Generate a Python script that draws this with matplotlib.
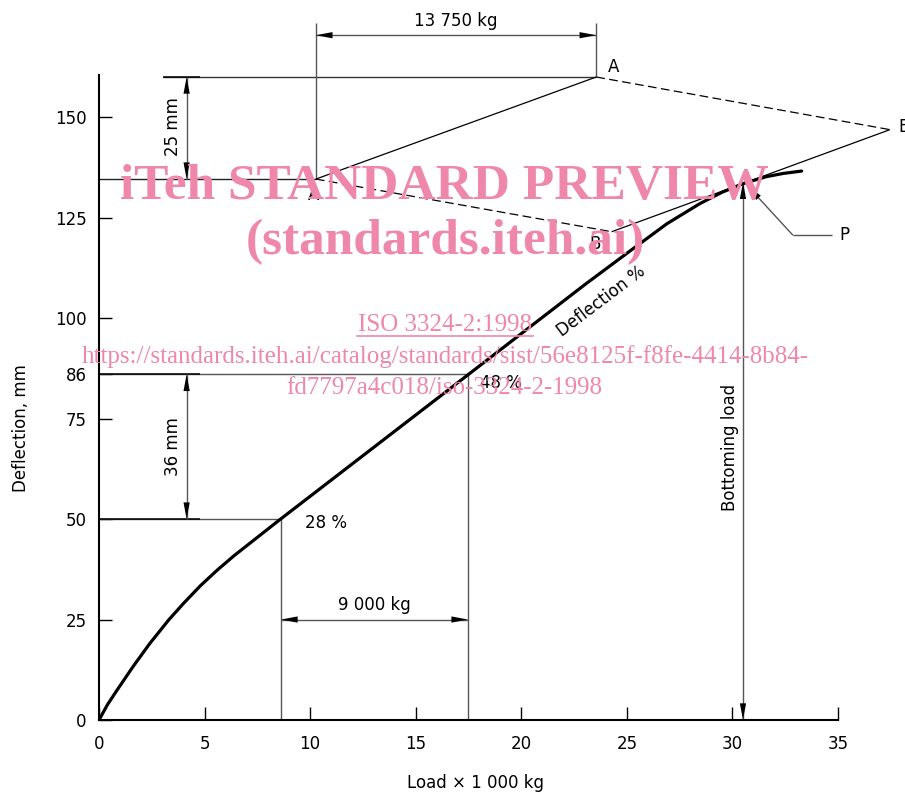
import matplotlib
matplotlib.use("Agg")
import matplotlib.pyplot as plt
from matplotlib.lines import Line2D

plt.rcParams["font.family"] = ["DejaVu Sans"]

# load-deflection curve (load x 1000 kg, deflection mm)
load = [0, 0.4, 0.8, 1.6, 2.4, 3.3, 4.0, 4.8, 5.6, 6.4, 7.15, 8.6, 17.5, 20.73,
        23.0, 25.3, 26.9, 28.46, 29.5, 30.52, 31.6, 32.4, 33.28]
defl = [0, 3.8, 7.0, 13.2, 19.0, 24.9, 29.0, 33.4, 37.3, 40.9, 44.0, 50.0, 86.0, 99.1,
        108.3, 117.3, 123.5, 128.5, 131.3, 133.5, 135.2, 136.0, 136.6]

xticks = [0, 5, 10, 15, 20, 25, 30, 35]
yticks = [0, 25, 50, 75, 86, 100, 125, 150]

# reference points
p28 = (8.62, 50)     # 28 % deflection
p48 = (17.48, 86)    # 48 % deflection
bottoming = (30.5, 133.8)
A_low = (10.27, 134.6)
A_up = (23.55, 160)
B_low = (24.28, 121.5)
B_up = (37.46, 146.9)

GRAY = "#555555"
PINK = "#ee87aa"

fig = plt.figure(figsize=(9.05, 7.94), dpi=100)
ax = fig.add_axes([99 / 905, 74 / 794, 739 / 905, 645 / 794])
ax.set_xlim(0, 35)
ax.set_ylim(0, 160.5)
for s in ["top", "right"]:
    ax.spines[s].set_visible(False)
for s in ["left", "bottom"]:
    ax.spines[s].set_linewidth(1.5)
ax.set_xticks(xticks)
ax.set_yticks(yticks)
ax.tick_params(direction="in", length=9.5, width=1, labelsize=12)
ax.tick_params(axis="x", pad=11)
ax.tick_params(axis="y", pad=9)

ax.text(-0.105, 0.453, "Deflection, mm", rotation=90, transform=ax.transAxes,
        ha="center", va="center", fontsize=12)
ax.text(0.51, -0.097, "Load × 1 000 kg", transform=ax.transAxes,
        ha="center", va="center", fontsize=12)


def seg(x, y, color=GRAY, lw=1.0, **kw):
    ax.plot(x, y, color=color, lw=lw, clip_on=False, solid_capstyle="butt", **kw)


def dim(p0, p1, style="<|-|>"):
    seg([p0[0], p1[0]], [p0[1], p1[1]])
    ax.annotate("", xy=p1, xytext=p0, annotation_clip=False,
                arrowprops=dict(arrowstyle=style + ",head_length=0.8,head_width=0.15",
                                mutation_scale=15, lw=0, color="black",
                                shrinkA=0, shrinkB=0))


# curve
ax.plot(load, defl, color="black", lw=2.3, solid_capstyle="round",
        solid_joinstyle="round", zorder=4)

# 28 % / 48 % construction lines
seg([0, p28[0]], [p28[1], p28[1]])
seg([0, p48[0]], [p48[1], p48[1]])
seg([p28[0], p28[0]], [0, p28[1]])
seg([p48[0], p48[0]], [0, p48[1]])
seg([0, 4.8], [p28[1], p28[1]], color="black", lw=1.1)
seg([0, 4.8], [p48[1], p48[1]], color="black", lw=1.1)
dim((4.15, p28[1]), (4.15, p48[1]))
ax.text(3.5, (p28[1] + p48[1]) / 2, "36 mm", rotation=90, ha="center", va="center", fontsize=12)
dim((p28[0], 25), (p48[0], 25))
ax.text((p28[0] + p48[0]) / 2, 28.5, "9 000 kg", ha="center", va="center", fontsize=12)
ax.text(9.76, 49, "28 %", ha="left", va="center", fontsize=12)
ax.text(18.05, 83.8, "48 %", ha="left", va="center", fontsize=12)
ax.text(23.8, 104.1, "Deflection %", rotation=37, rotation_mode="anchor",
        ha="center", va="center", fontsize=12)

# bottoming load
dim((bottoming[0], 0), bottoming)
ax.text(29.9, 67.9, "Bottoming load", rotation=90, ha="center", va="center", fontsize=12)

# tangent construction
seg([0, A_low[0]], [A_low[1], A_low[1]], color="#222222")
seg([3.03, A_up[0]], [A_up[1], A_up[1]], color="#333333")
seg([3.03, 4.8], [A_up[1], A_up[1]], color="black", lw=1.1)
dim((4.15, A_low[1]), (4.15, A_up[1]))
ax.text(3.5, 147.6, "25 mm", rotation=90, ha="center", va="center", fontsize=12)
seg([A_low[0], A_low[0]], [A_low[1], 173.5])
seg([A_up[0], A_up[0]], [A_up[1], 173.5])
dim((A_low[0], 170.4), (A_up[0], 170.4))
ax.text((A_low[0] + A_up[0]) / 2, 173.9, "13 750 kg", ha="center", va="center", fontsize=12)

seg([A_low[0], A_up[0]], [A_low[1], A_up[1]], color="black", lw=0.9)
seg([B_low[0], B_up[0]], [B_low[1], B_up[1]], color="black", lw=0.9)
seg([A_low[0], B_low[0]], [A_low[1], B_low[1]], color="black", lw=0.9, dashes=(7, 3.5))
seg([A_up[0], B_up[0]], [A_up[1], B_up[1]], color="black", lw=0.9, dashes=(7, 3.5))
ax.text(24.35, 162.4, "A", ha="center", va="center", fontsize=12, clip_on=False)
ax.text(10.18, 130.6, "A", ha="center", va="center", fontsize=12)
ax.text(23.49, 118.5, "B", ha="center", va="center", fontsize=12)
ax.text(37.84, 147.5, "B", ha="left", va="center", fontsize=12)

# P leader
seg([32.87, 34.72], [120.6, 120.6])
dim((32.87, 120.6), (30.7, 133.0), style="-|>")
ax.text(35.05, 120.6, "P", ha="left", va="center", fontsize=12)

# watermark
wm = dict(color=PINK, family="Liberation Serif", ha="center", va="center", zorder=10)
fig.text(444 / 905, 1 - 187 / 794, "iTeh STANDARD PREVIEW", fontsize=37, weight="bold", **wm)
fig.text(445 / 905, 1 - 242 / 794, "(standards.iteh.ai)", fontsize=37, weight="bold", **wm)
fig.text(445 / 905, 1 - 325 / 794, "ISO 3324-2:1998", fontsize=18, **wm)
fig.add_artist(Line2D([357 / 905, 533 / 905], [1 - 336 / 794, 1 - 336 / 794],
                      color=PINK, lw=1.2, transform=fig.transFigure))
fig.text(445 / 905, 1 - 357 / 794,
         "https://standards.iteh.ai/catalog/standards/sist/56e8125f-f8fe-4414-8b84-",
         fontsize=18, **wm)
fig.text(444 / 905, 1 - 388 / 794, "fd7797a4c018/iso-3324-2-1998", fontsize=18, **wm)

fig.savefig("out.png", dpi=100)
